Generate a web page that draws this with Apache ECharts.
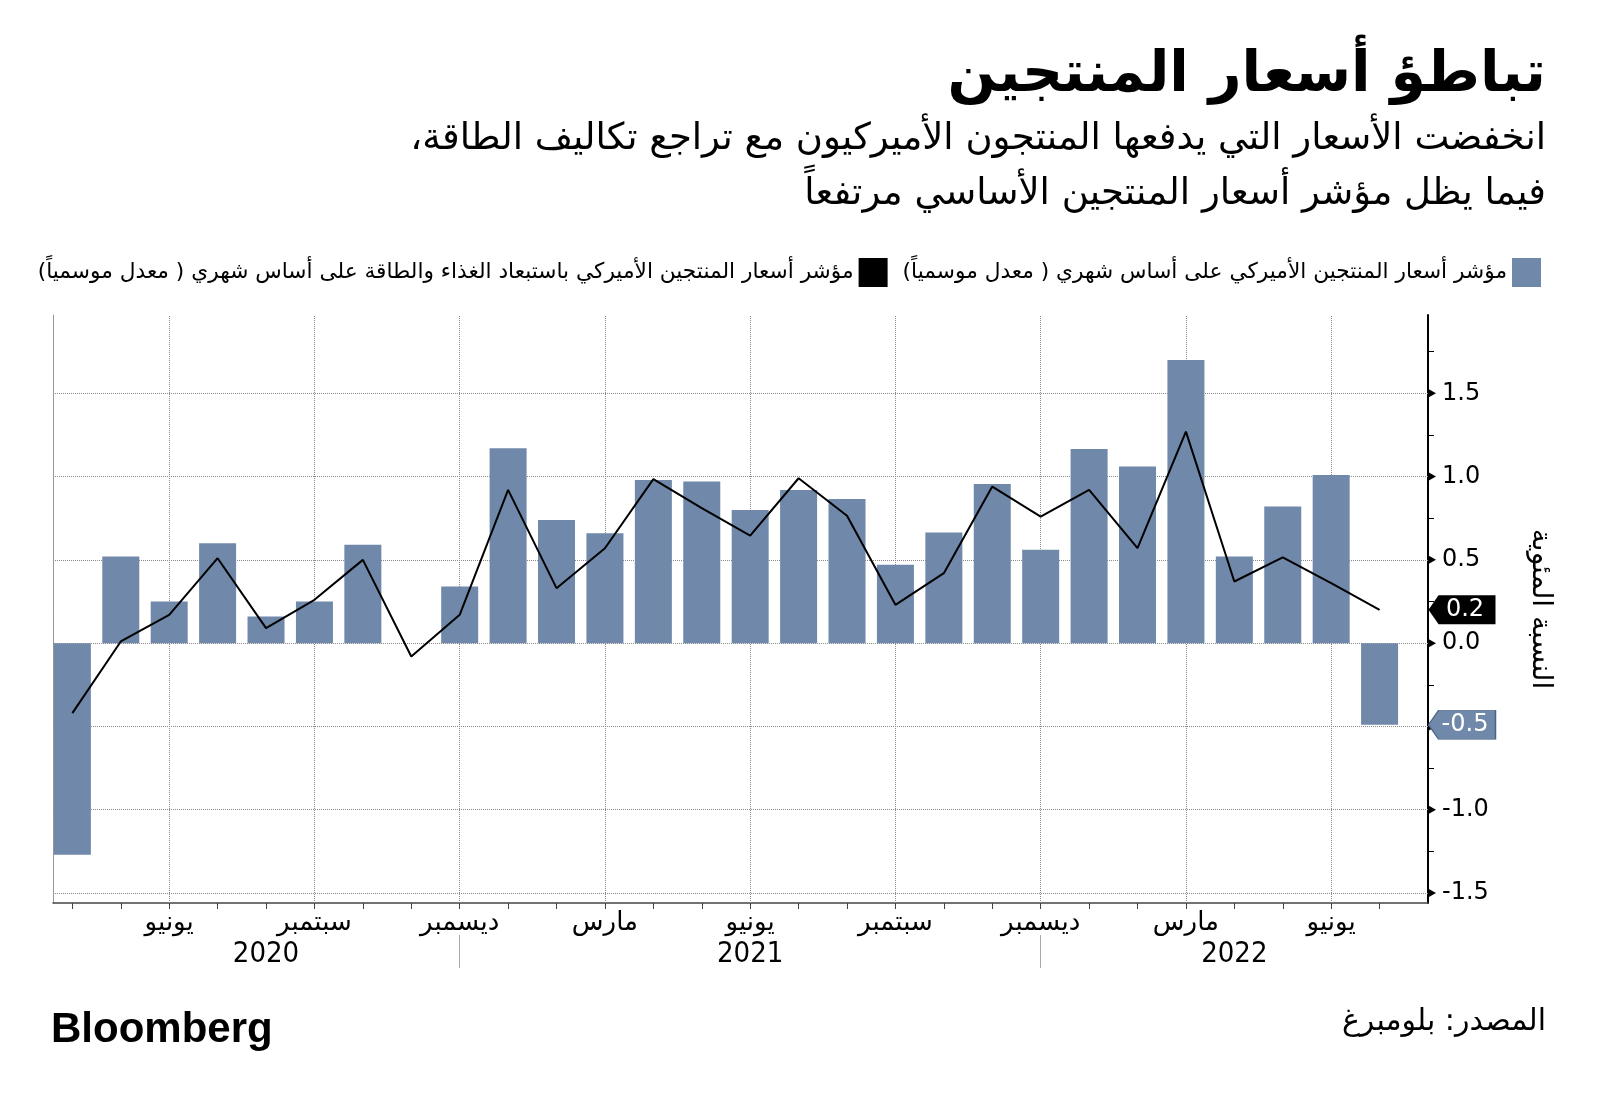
<!DOCTYPE html>
<html><head><meta charset="utf-8">
<script src="https://cdn.jsdelivr.net/npm/echarts@6/dist/echarts.min.js"></script>
<style>html,body{margin:0;padding:0;background:#fff}#c{width:1600px;height:1109px}</style>
</head><body><div id="c"></div>
<script>
// ---------- data ----------
const months = ['2020-04','2020-05','2020-06','2020-07','2020-08','2020-09','2020-10','2020-11','2020-12',
  '2021-01','2021-02','2021-03','2021-04','2021-05','2021-06','2021-07','2021-08','2021-09','2021-10','2021-11','2021-12',
  '2022-01','2022-02','2022-03','2022-04','2022-05','2022-06','2022-07'];
const arabicMonths = ['يناير','فبراير','مارس','أبريل','مايو','يونيو','يوليو','أغسطس','سبتمبر','أكتوبر','نوفمبر','ديسمبر'];
const ppiMoM = [-1.27,0.52,0.25,0.60,0.16,0.25,0.59,0.00,0.34,
  1.17,0.74,0.66,0.98,0.97,0.80,0.92,0.865,0.47,0.665,0.956,0.56,
  1.166,1.06,1.70,0.52,0.82,1.01,-0.49];
const coreMoM = [-0.42,0.01,0.17,0.51,0.09,0.26,0.50,-0.08,0.17,
  0.92,0.33,0.57,0.985,0.81,0.645,0.99,0.765,0.23,0.42,0.94,0.76,
  0.92,0.57,1.27,0.37,0.515,0.36,0.20];
const yTicks = [-1.5,-1.0,-0.5,0.0,0.5,1.0,1.5];

const barName = 'مؤشر أسعار المنتجين الأميركي على أساس شهري ( معدل موسمياً)';
const lineName = 'مؤشر أسعار المنتجين الأميركي باستبعاد الغذاء والطاقة على أساس شهري ( معدل موسمياً)';
const titleText = 'تباطؤ أسعار المنتجين';
const subLine1 = 'انخفضت الأسعار التي يدفعها المنتجون الأميركيون مع تراجع تكاليف الطاقة،';
const subLine2 = 'فيما يظل مؤشر أسعار المنتجين الأساسي مرتفعاً';
const yName = 'النسبة المئوية';
const sourceText = 'المصدر: بلومبرغ';
const brand = 'Bloomberg';

// ---------- derived ----------
const rtl = s => '\u200F' + s + '\u200F';
const N = months.length;
const xMin = -0.4, xMax = N;
const monthNum = months.map(m => +m.split('-')[1]);
const yearOf = months.map(m => m.split('-')[0]);
const idx = months.map((m, i) => i);
const quarterIdx = idx.filter(i => monthNum[i] % 3 === 0);
const sepIdx = idx.filter(i => monthNum[i] === 12);
const years = yearOf.filter((y, i) => yearOf.indexOf(y) === i);
const bounds = [0].concat(sepIdx, [xMax]);
const yearCenters = years.map((y, k) => (bounds[k] + bounds[k + 1]) / 2);
const yMin = -1.56, yMax = 1.97;
const quarterTicks = [];
for (let v = -1.5; v <= 1.75 + 1e-9; v += 0.25) quarterTicks.push(+v.toFixed(2));

const BAR = '#7088a9';
const FONT = "'DejaVu Sans', sans-serif";

const chart = echarts.init(document.getElementById('c'), null, {renderer: 'canvas'});
const calloutPath = 'path://M0,10 L9,0 L60,0 L60,20 L9,20 Z';

const option = {
  animation: false,
  backgroundColor: '#fff',
  textStyle: {fontFamily: FONT},
  graphic: [
    {type: 'text', x: 1546, y: 76, style: {text: titleText, font: "bold 57px 'DejaVu Sans'", fill: '#000', align: 'right', verticalAlign: 'middle'}},
    {type: 'text', x: 1546, y: 139, style: {text: rtl(subLine1), font: "37px 'DejaVu Sans'", fill: '#000', align: 'right', verticalAlign: 'middle'}},
    {type: 'text', x: 1546, y: 194, style: {text: rtl(subLine2), font: "37px 'DejaVu Sans'", fill: '#000', align: 'right', verticalAlign: 'middle'}},
    {type: 'text', x: 51, y: 1030, style: {text: brand, font: "bold 42px 'Liberation Sans'", fill: '#000', align: 'left', verticalAlign: 'middle'}},
    {type: 'text', x: 1546, y: 1022, style: {text: rtl(sourceText), font: "30px 'DejaVu Sans'", fill: '#000', align: 'right', verticalAlign: 'middle'}}
  ],
  legend: {
    right: 54, top: 253, align: 'right', itemGap: 15, itemWidth: 29, itemHeight: 29,
    icon: 'rect',
    data: [lineName, barName],
    formatter: n => rtl(n),
    textStyle: {fontSize: 21.7, color: '#000', fontFamily: FONT}
  },
  grid: {left: 53, right: 172, top: 315, bottom: 206, containLabel: false},
  xAxis: [{
    type: 'value', min: xMin, max: xMax, position: 'bottom',
    axisLine: {show: true, onZero: false, lineStyle: {color: '#444', width: 1.5}},
    axisTick: {show: true, customValues: idx, length: 6, lineStyle: {color: '#444'}},
    axisLabel: {customValues: quarterIdx, margin: 7, fontSize: 26, color: '#000', fontFamily: FONT,
      formatter: v => rtl(arabicMonths[monthNum[Math.round(v)] - 1])},
    splitLine: {show: false}
  }, {
    type: 'value', min: xMin, max: xMax, position: 'bottom', offset: 32,
    axisLine: {show: false, onZero: false},
    axisTick: {show: true, customValues: sepIdx, length: 33, lineStyle: {color: '#aaa'}},
    axisLabel: {customValues: yearCenters, margin: 5, fontSize: 29, color: '#000',
      fontFamily: "'Liberation Sans Narrow', 'DejaVu Sans Condensed', sans-serif",
      formatter: v => { const k = yearCenters.findIndex(c => Math.abs(c - v) < 1e-6); return k >= 0 ? years[k] : ''; }},
    splitLine: {show: false}
  }],
  yAxis: [{
    type: 'value', min: yMin, max: yMax, position: 'right',
    axisLine: {show: true, onZero: false, lineStyle: {color: '#000', width: 2}},
    axisTick: {show: true, customValues: quarterTicks, length: 6, lineStyle: {color: '#000'}},
    axisLabel: {customValues: yTicks, margin: 14, fontSize: 24, color: '#000', fontFamily: FONT,
      formatter: v => v.toFixed(1)},
    splitLine: {show: false},
    name: rtl(yName), nameLocation: 'middle', nameRotate: -90, nameGap: 98,
    nameTextStyle: {fontSize: 28, color: '#000', fontFamily: FONT}
  }, {
    type: 'value', min: yMin, max: yMax, position: 'left',
    axisLine: {show: true, onZero: false, lineStyle: {color: '#999', width: 1}},
    axisTick: {show: false}, axisLabel: {show: false}, splitLine: {show: false}
  }],
  series: [{
    type: 'bar', name: barName, xAxisIndex: 0, yAxisIndex: 0,
    data: ppiMoM.map((v, i) => [i, v]),
    barWidth: 37,
    itemStyle: {color: BAR},
    z: 3,
    markLine: {
      z: 1, silent: true, symbol: ['none', 'none'], label: {show: false},
      lineStyle: {color: '#8a8a8a', type: 'dotted', width: 1},
      data: yTicks.map(v => ({yAxis: v})).concat(quarterIdx.map(i => ({xAxis: i})))
    },
    markPoint: {
      z: 6, silent: true,
      data: yTicks.map(v => ({
        coord: [xMax, v], symbol: 'triangle', symbolRotate: -90, symbolSize: [9, 8], symbolOffset: [4, 0],
        itemStyle: {color: '#000'}, label: {show: false}
      })).concat([{
        coord: [xMax, ppiMoM[N - 1]], value: ppiMoM[N - 1],
        symbol: calloutPath, symbolKeepAspect: false, symbolSize: [67, 29], symbolOffset: [34, 0],
        itemStyle: {color: BAR, borderColor: '#4d6384', borderWidth: 1},
        label: {show: true, position: 'inside', offset: [3, 0], color: '#fff', fontSize: 24, fontFamily: FONT,
          formatter: p => (+p.value).toFixed(1)}
      }])
    }
  }, {
    type: 'line', name: lineName, xAxisIndex: 0, yAxisIndex: 0,
    data: coreMoM.map((v, i) => [i, v]),
    symbol: 'none', z: 4,
    lineStyle: {color: '#000', width: 2},
    itemStyle: {color: '#000'},
    markPoint: {
      z: 6, silent: true,
      data: [{
        coord: [xMax, coreMoM[N - 1]], value: coreMoM[N - 1],
        symbol: calloutPath, symbolKeepAspect: false, symbolSize: [67, 29], symbolOffset: [34, 0],
        itemStyle: {color: '#000'},
        label: {show: true, position: 'inside', offset: [3, 0], color: '#fff', fontSize: 24, fontFamily: FONT,
          formatter: p => (+p.value).toFixed(1)}
      }]
    }
  }]
};
chart.setOption(option);
</script></body></html>
